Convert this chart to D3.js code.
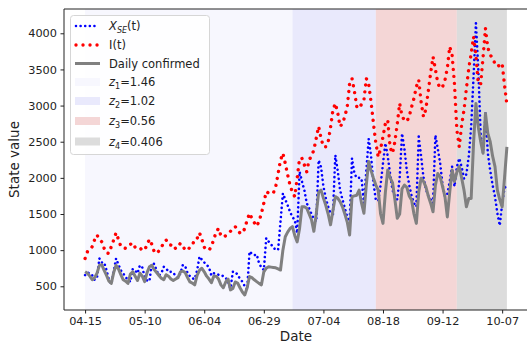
<!DOCTYPE html>
<html>
<head>
<meta charset="utf-8">
<script src="https://cdn.jsdelivr.net/npm/d3@7"></script>
<style>
  body { margin: 0; background: #fff; }
  text { font-family: "DejaVu Sans", sans-serif; }
</style>
</head>
<body>
<div id="chart-area"></div>
<script>

// x tick labels (one every 25 days, starting at day 0)
const tickDays = [0, 25, 50, 75, 100, 125, 150, 175];
const tickLabels = ['04-15', '05-10', '06-04', '06-29', '07-04', '08-18', '09-12', '10-07'];
const yTicks = [500, 1000, 1500, 2000, 2500, 3000, 3500, 4000];

// X_SE(t), daily values
const xse = [
  655, 690, 680, 650, 590, 620, 885, 830, 830, 720,
  590, 530, 700, 885, 800, 720, 680, 620, 600, 560,
  740, 720, 680, 790, 760, 630, 580, 570, 820, 810,
  720, 650, 680, 770, 750, 700, 700, 690, 640, 620,
  680, 795, 780, 680, 640, 610, 600, 720, 910, 870,
  830, 800, 760, 650, 680, 670, 660, 660, 640, 620,
  560, 470, 700, 700, 660, 600, 565, 500, 450, 980,
  950, 930, 940, 820, 760, 725, 1165, 1120, 1080, 1040,
  1000, 1010, 1400, 1785, 1700, 1620, 1530, 1460, 1415, 1235,
  2085, 1950, 1830, 1650, 1580, 1500, 1430, 1395, 2245, 2150,
  1880, 1720, 1600, 1510, 1500, 2315, 2100, 1830, 1700, 1580,
  1460, 1370, 2270, 2060, 2000, 2000, 1990, 1650, 2100, 2540,
  2300, 1925, 1695, 1680, 1900, 2200, 2480, 2300, 2050, 1830,
  1750, 1700, 2000, 2615, 2400, 2100, 1900, 1750, 1650, 1600,
  2570, 2300, 2000, 1850, 1750, 1700, 1650, 2590, 2400, 2200,
  1900, 1740, 1780, 1950, 2155, 1880, 2150, 2270, 2150, 1990,
  2050, 2300, 2710, 3400, 4140, 3500, 2600, 2340, 2895, 2340,
  2100, 1900, 1740, 1510, 1340, 1640, 1860, 1900
];

// I(t)
const infected = [
  885, 980, 1000, 1050, 1145, 1210, 1150, 1115, 1025, 960,
  955, 1050, 1140, 1240, 1150, 1050, 1030, 1025, 1060, 1080,
  1100, 1040, 1050, 1030, 1000, 1000, 1080, 1150, 1080, 980,
  955, 990, 1040, 1100, 1140, 1080, 1070, 1080, 1020, 1050,
  1095, 1060, 1000, 1000, 1040, 1070, 1150, 1160, 1240, 1150,
  1040, 1010, 1000, 1050, 1150, 1250, 1300, 1200, 1180, 1200,
  1230, 1260, 1300, 1325, 1280, 1235, 1235, 1300, 1415, 1510,
  1440, 1380, 1330, 1400, 1510, 1650, 1810, 1790, 1800, 1790,
  1880, 2060, 2245, 2340, 2200, 2040, 1900, 1800, 1740, 2000,
  2270, 2270, 2180, 2085, 2250, 2300, 2385, 2550, 2710, 2550,
  2430, 2430, 2500, 2700, 2940, 3030, 2900, 2710, 2750, 2850,
  2985, 3310, 3375, 3200, 2985, 2960, 3020, 3075, 3375, 3300,
  3050, 2755, 2480, 2290, 2400, 2570, 2750, 2800, 2420, 2340,
  2500, 2750, 3030, 2850, 2800, 2780, 2850, 2980, 3100, 3260,
  3355, 3050, 2845, 2950, 3200, 3450, 3675, 3500, 3310, 3240,
  3260, 3350, 3520, 3815, 3700, 3300, 2660, 2430, 2730, 2940,
  3240, 3515, 3720, 3950, 3700, 3300, 3300, 3675, 4070, 3800,
  3700, 3655, 3580, 3540, 3560, 3585, 3285, 3010
];

// Daily confirmed
const confirmed = [
  700, 680, 640, 590, 620, 680, 790, 800, 720, 650,
  570, 540, 690, 790, 740, 660, 590, 570, 540, 670,
  700, 640, 580, 680, 640, 565, 690, 770, 790, 730,
  690, 650, 610, 590, 660, 640, 600, 580, 600, 620,
  700, 710, 690, 620, 560, 545, 520, 650, 720, 750,
  700, 640, 600, 550, 640, 640, 600, 520, 480, 560,
  600, 450, 470, 560, 545, 480, 420, 380, 480, 635,
  620, 590, 565, 540, 520, 700, 750, 770, 765, 760,
  755, 740, 725, 1000, 1185, 1250, 1300, 1325, 1200, 1115,
  1300, 1600, 1600, 1580, 1500, 1420, 1260, 1500, 1800, 1830,
  1720, 1620, 1500, 1350, 1550, 1740, 1720, 1670, 1600, 1500,
  1390, 1210, 1740, 1750, 1760, 1830, 1650, 1510, 1900, 2225,
  2100, 1995, 1900, 1830, 1500, 1370, 1800, 2110, 2000, 1935,
  1700, 1440, 1500, 1850, 1900, 1870, 1750, 1695, 1500, 1370,
  1800, 1995, 1950, 1875, 1750, 1650, 1530, 1900, 2060, 2015,
  1880, 1740, 1460, 1800, 2110, 1950, 2080, 2155, 2000, 1830,
  1600, 1715, 1715, 2480, 3030, 2700, 2500, 2340, 2890, 2615,
  2500, 2300, 2155, 1830, 1700, 1600, 2000, 2430
];

// regime periods (start day, end day) and their z values
const periodStart = [0, 87, 122, 156];
const periodEnd = [87, 122, 156, 177];
const zValues = ['1.46', '1.02', '0.56', '0.406'];
const periodColors = ['#f7f7fe', '#e9e9fc', '#f4d6d6', '#dcdcdc'];

const widthSvg = 527;
const heightSvg = 345;
const margin = { top: 9, left: 64, bottom: 35 };
const plotRight = 528;
const plotBottom = heightSvg - margin.bottom;

// matplotlib-like dotted styles
const blueDash = '0.01,4.6';
const redDash = '0.01,7';

const svg = d3.select('#chart-area').append('svg')
  .attr('width', widthSvg)
  .attr('height', heightSvg);

const scaleX = d3.scaleLinear()
  .domain([-8.85, 185.85])
  .range([margin.left, plotRight]);

const scaleY = d3.scaleLinear()
  .domain([172, 4336])
  .range([plotBottom, margin.top]);

svg.append('clipPath').attr('id', 'clip')
  .append('rect')
    .attr('x', margin.left)
    .attr('y', margin.top)
    .attr('width', plotRight - margin.left)
    .attr('height', plotBottom - margin.top);

const plot = svg.append('g').attr('clip-path', 'url(#clip)');

// shaded periods
plot.selectAll('rect.period')
  .data(periodStart)
  .enter().append('rect')
    .attr('class', 'period')
    .attr('x', (d, i) => scaleX(d))
    .attr('y', margin.top)
    .attr('width', (d, i) => scaleX(periodEnd[i]) - scaleX(d))
    .attr('height', plotBottom - margin.top)
    .attr('fill', (d, i) => periodColors[i]);

const line = d3.line()
  .x((d, i) => scaleX(i))
  .y(d => scaleY(d));

plot.append('path')
  .datum(xse)
  .attr('d', line)
  .attr('fill', 'none')
  .attr('stroke', '#0000ff')
  .attr('stroke-width', 2.6)
  .attr('stroke-linecap', 'round')
  .attr('stroke-dasharray', blueDash);

plot.append('path')
  .datum(infected)
  .attr('d', line)
  .attr('fill', 'none')
  .attr('stroke', '#ff0000')
  .attr('stroke-width', 3.4)
  .attr('stroke-linecap', 'round')
  .attr('stroke-dasharray', redDash);

plot.append('path')
  .datum(confirmed)
  .attr('d', line)
  .attr('fill', 'none')
  .attr('stroke', '#808080')
  .attr('stroke-width', 3)
  .attr('stroke-linejoin', 'round');

// axes
const axisX = d3.axisBottom(scaleX)
  .tickValues(tickDays)
  .tickFormat((d, i) => tickLabels[i])
  .tickSizeInner(3.5)
  .tickSizeOuter(0)
  .tickPadding(3.5);

const axisY = d3.axisLeft(scaleY)
  .tickValues(yTicks)
  .tickFormat(d3.format('d'))
  .tickSizeInner(3.5)
  .tickSizeOuter(0)
  .tickPadding(3.5);

const axisGroupX = svg.append('g')
  .attr('transform', `translate(0, ${plotBottom})`)
  .call(axisX);

const axisGroupY = svg.append('g')
  .attr('transform', `translate(${margin.left}, 0)`)
  .call(axisY);

[axisGroupX, axisGroupY].forEach(g => {
  g.select('.domain').remove();
  g.selectAll('.tick line').attr('stroke', '#222');
  g.selectAll('.tick text')
    .attr('fill', '#222')
    .style('font-size', '11.3px')
    .style('font-family', '"DejaVu Sans", sans-serif');
});

// spines (left, bottom, top)
svg.append('path')
  .attr('d', `M${plotRight},${margin.top}H${margin.left}V${plotBottom}H${plotRight}`)
  .attr('fill', 'none')
  .attr('stroke', '#222')
  .attr('stroke-width', 1);

// axis labels
svg.append('text')
  .text('Date')
  .attr('x', (margin.left + plotRight) / 2)
  .attr('y', 341)
  .attr('text-anchor', 'middle')
  .attr('font-size', '13.5px')
  .attr('fill', '#222');

svg.append('text')
  .text('State value')
  .attr('transform', `translate(19, ${(margin.top + plotBottom) / 2}) rotate(-90)`)
  .attr('text-anchor', 'middle')
  .attr('font-size', '13.5px')
  .attr('fill', '#222');

// legend
const legend = svg.append('g');
legend.append('rect')
  .attr('x', 70.5)
  .attr('y', 15.5)
  .attr('width', 139)
  .attr('height', 139)
  .attr('rx', 3)
  .attr('fill', '#fff')
  .attr('fill-opacity', 0.8)
  .attr('stroke', '#d6d6d6');

const rowY = [26, 45, 63.5, 82, 101, 121, 141.5];
const hx0 = 76, hx1 = 99, tx = 109;
const fs = 11.5;

legend.append('line')
  .attr('x1', hx0).attr('x2', hx1).attr('y1', rowY[0]).attr('y2', rowY[0])
  .attr('stroke', '#0000ff').attr('stroke-width', 2.6)
  .attr('stroke-linecap', 'round').attr('stroke-dasharray', blueDash);
legend.append('line')
  .attr('x1', hx0).attr('x2', hx1).attr('y1', rowY[1]).attr('y2', rowY[1])
  .attr('stroke', '#ff0000').attr('stroke-width', 3.4)
  .attr('stroke-linecap', 'round').attr('stroke-dasharray', redDash);
legend.append('line')
  .attr('x1', hx0 - 1).attr('x2', hx1 + 1).attr('y1', rowY[2]).attr('y2', rowY[2])
  .attr('stroke', '#808080').attr('stroke-width', 3);

const t0 = legend.append('text')
  .attr('x', tx).attr('y', rowY[0] + 4).attr('font-size', fs + 'px').attr('fill', '#222');
t0.append('tspan').attr('font-style', 'italic').text('X');
t0.append('tspan').attr('font-style', 'italic').attr('font-size', (fs * 0.7) + 'px')
  .attr('dy', 3).text('SE');
t0.append('tspan').attr('dy', -3).text('(t)');

legend.append('text')
  .attr('x', tx).attr('y', rowY[1] + 4).attr('font-size', fs + 'px').attr('fill', '#222')
  .text('I(t)');

legend.append('text')
  .attr('x', tx).attr('y', rowY[2] + 4).attr('font-size', fs + 'px').attr('fill', '#222')
  .text('Daily confirmed');

zValues.forEach((z, i) => {
  const yy = rowY[3 + i];
  legend.append('rect')
    .attr('x', hx0 - 1).attr('y', yy - 4)
    .attr('width', hx1 - hx0 + 2).attr('height', 8)
    .attr('fill', periodColors[i]);
  const t = legend.append('text')
    .attr('x', tx).attr('y', yy + 4).attr('font-size', fs + 'px').attr('fill', '#222');
  t.append('tspan').attr('font-style', 'italic').text('z');
  t.append('tspan').attr('font-size', (fs * 0.7) + 'px').attr('dy', 3).text(i + 1);
  t.append('tspan').attr('dy', -3).text('=' + z);
});

</script>
</body>
</html>
